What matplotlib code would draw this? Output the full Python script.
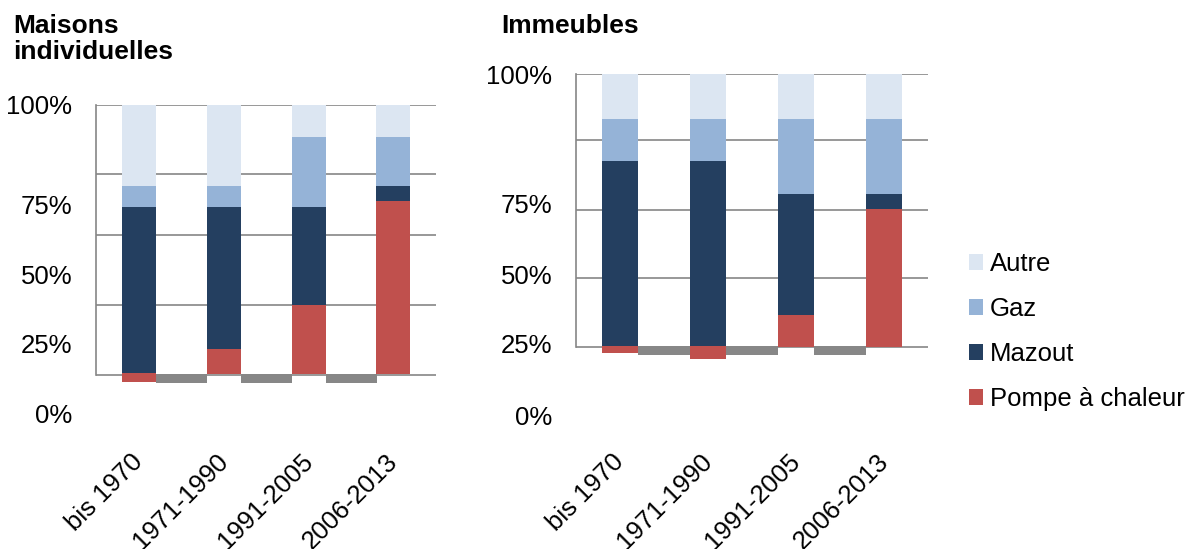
import matplotlib.pyplot as plt
from matplotlib.patches import Patch
from matplotlib.transforms import ScaledTranslation

plt.rcParams['font.family'] = ['Liberation Sans', 'DejaVu Sans']

categories = ['bis 1970', '1971-1990', '1991-2005', '2006-2013']
series = ['Autre', 'Gaz', 'Mazout', 'Pompe à chaleur']
colors = {'Autre': '#DCE6F2', 'Gaz': '#95B3D7', 'Mazout': '#243F60',
          'Pompe à chaleur': '#C0504D'}

# Maisons individuelles (%), stacked from the bottom
maisons_base = [-2.6, 0.4, 0.4, 0.4]
maisons_pompe = [3.3, 9.2, 25.5, 64.0]
maisons_mazout = [61.5, 52.6, 36.3, 5.6]
maisons_gaz = [7.8, 7.8, 25.9, 18.1]
maisons_autre = [30.0, 30.0, 11.9, 11.9]
maisons_grid = [0, 26, 52, 74.5, 100]
maisons_ticks = [100, 63.3, 37.4, 11.5, -14.1]

# Immeubles (%)
immeubles_base = [-2.1, -4.3, 0.0, 0.0]
immeubles_pompe = [2.5, 4.7, 11.7, 50.5]
immeubles_mazout = [67.7, 67.7, 44.3, 5.5]
immeubles_gaz = [15.4, 15.4, 27.5, 27.5]
immeubles_autre = [16.5, 16.5, 16.5, 16.5]
immeubles_grid = [0, 25.3, 50.2, 75.8, 100]
immeubles_ticks = [100, 52.4, 26.7, 1.1, -25.0]

tick_labels = ['100%', '75%', '50%', '25%', '0%']
floor = (-2.8, 0.5)

W, H = 1192, 549
fig = plt.figure(figsize=(W / 100, H / 100), dpi=100)
shift = ScaledTranslation(-8 / 100, 0, fig.dpi_scale_trans)


def add_panel(left, right, top, scale, base, pompe, mazout, gaz, autre,
              grid, ticks, width):
    bottom_px = 430
    ax = fig.add_axes([left / W, 1 - bottom_px / H, (right - left) / W,
                       (bottom_px - top) / H])
    ax.set_xlim(-0.5, 3.5)
    ax.set_ylim(100 - (bottom_px - top) / scale, 100)
    x = list(range(len(categories)))

    for g in grid:
        ax.axhline(g, color='#868686', lw=1.2, zorder=1)

    # floor strips between the bars
    ax.bar([i + 0.5 for i in x[:-1]], floor[1] - floor[0], width=1 - width,
           bottom=floor[0], color='#878787', zorder=2)

    bottom = list(base)
    for name, vals in zip(series[::-1], [pompe, mazout, gaz, autre]):
        ax.bar(x, vals, width=width, bottom=bottom, color=colors[name],
               zorder=3)
        bottom = [b + v for b, v in zip(bottom, vals)]

    for s in ['top', 'right', 'bottom']:
        ax.spines[s].set_visible(False)
    ax.spines['left'].set_color('#868686')
    ax.spines['left'].set_linewidth(1.2)
    ax.spines['left'].set_bounds(0, 100)

    ax.set_yticks(ticks)
    ax.set_yticklabels(tick_labels, fontsize=18.5)
    ax.tick_params(axis='y', length=0, pad=17)
    ax.set_xticks(x)
    ax.set_xticklabels(categories, fontsize=18.5, rotation=45, ha='right',
                       va='top', rotation_mode='anchor')
    ax.tick_params(axis='x', length=0, pad=14)
    for lab in ax.get_xticklabels():
        lab.set_transform(lab.get_transform() + shift)
    return ax


add_panel(96, 436, 105, 2.7, maisons_base, maisons_pompe, maisons_mazout,
          maisons_gaz, maisons_autre, maisons_grid, maisons_ticks, 0.4)
add_panel(576, 928, 74, 2.73, immeubles_base, immeubles_pompe,
          immeubles_mazout, immeubles_gaz, immeubles_autre, immeubles_grid,
          immeubles_ticks, 0.41)

fig.text(13 / W, 1 - 14 / H, 'Maisons\nindividuelles', fontsize=19,
         fontweight='bold', va='top', ha='left', linespacing=1.12)
fig.text(501 / W, 1 - 14 / H, 'Immeubles', fontsize=19, fontweight='bold',
         va='top', ha='left')

handles = [Patch(facecolor=colors[s], edgecolor='none') for s in series]
fig.legend(handles, series, loc='upper left',
           bbox_to_anchor=(969 / W, 1 - 252 / H), frameon=False,
           fontsize=18.5, handlelength=0.56, handleheight=0.56,
           handletextpad=0.25, labelspacing=0.82, borderpad=0,
           borderaxespad=0)

fig.savefig('out.png', dpi=100)
